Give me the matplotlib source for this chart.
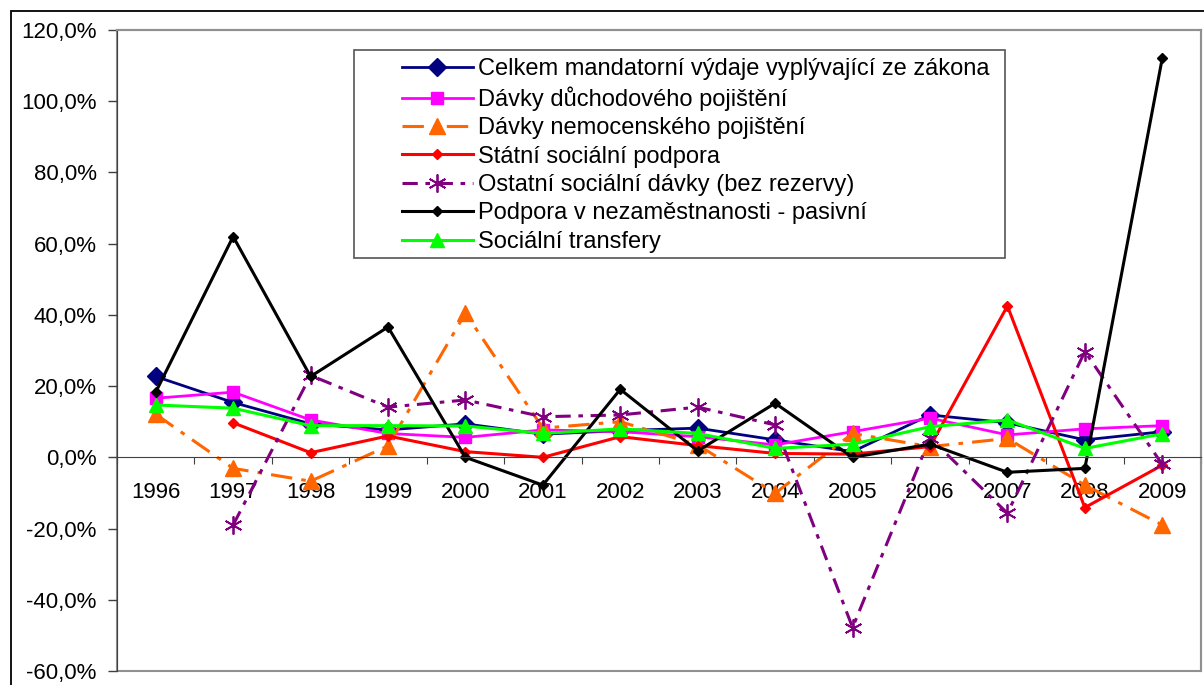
import numpy as np
import matplotlib
matplotlib.use("Agg")
import matplotlib.pyplot as plt
from matplotlib.patches import Rectangle

plt.rcParams["font.family"] = ["Liberation Sans", "DejaVu Sans"]

years = ["1996", "1997", "1998", "1999", "2000", "2001", "2002",
         "2003", "2004", "2005", "2006", "2007", "2008", "2009"]

# yearly change, %
celkem = [22.7, 15.4, 9.4, 7.7, 9.4, 6.5, 7.5, 8.2, 4.9, 1.6, 11.9, 9.7, 4.9, 7.2]
duchod = [16.6, 18.3, 10.5, 6.7, 5.6, 7.7, 7.2, 5.8, 3.5, 7.2, 11.0, 6.3, 8.0, 8.9]
nemoc = [12.1, -3.1, -6.7, 3.2, 40.5, 8.2, 10.0, 3.5, -10.1, 6.7, 3.0, 5.3, -7.8, -19.0]
ssp = [np.nan, 9.7, 1.3, 6.0, 1.6, 0.0, 5.8, 3.3, 1.1, 0.9, 3.0, 42.5, -14.1, -2.2]
ostatni = [np.nan, -19.0, 23.0, 14.1, 16.1, 11.4, 11.9, 14.1, 9.1, -47.8, 5.5, -15.7, 29.7, -2.0]
nezam = [18.3, 62.0, 22.7, 36.6, 0.0, -7.8, 19.1, 1.8, 15.2, 0.0, 3.7, -4.2, -3.1, 112.1]
transfery = [14.7, 13.8, 8.9, 8.9, 8.8, 6.7, 8.0, 6.7, 2.5, 3.7, 8.6, 10.5, 2.5, 6.6]

labels = [
    "Celkem mandatorní výdaje vyplývající ze zákona",
    "Dávky důchodového pojištění",
    "Dávky nemocenského pojištění",
    "Státní sociální podpora",
    "Ostatní sociální dávky (bez rezervy)",
    "Podpora v nezaměstnanosti - pasivní",
    "Sociální transfery",
]

W, H = 1204, 685
fig = plt.figure(figsize=(W / 100, H / 100), dpi=100)
ax = fig.add_axes([117 / W, 1 - 671 / H, 1084 / W, 641 / H])

# outer chart border (only top/left visible in the reference)
fig.patches.append(Rectangle((10.5 / W, -0.1), 1.2, 1 - 11 / H + 0.1,
                             transform=fig.transFigure, fill=False,
                             edgecolor="black", linewidth=1.3, zorder=0))

x = np.arange(len(years))

ax.plot(x, celkem, color="#000080", lw=2, marker="D", ms=9, label=labels[0])
ax.plot(x, duchod, color="#FF00FF", lw=2, marker="s", ms=8.5, label=labels[1])
ax.plot(x, nemoc, color="#FF6600", lw=2.2, marker="^", ms=12, dashes=(7, 3, 1.5, 3),
        label=labels[2])
ax.plot(x, ssp, color="#FF0000", lw=2.2, marker="D", ms=5.5, label=labels[3])
ax.plot(x, ostatni, color="#800080", lw=2.2, marker=(6, 2, 0), ms=13, mew=1.3,
        dashes=(5, 2.5, 1.5, 2.5), label=labels[4])
ax.plot(x, nezam, color="black", lw=2.2, marker="D", ms=5.5, label=labels[5])
ax.plot(x, transfery, color="#00FF00", lw=2.2, marker="^", ms=9.5, label=labels[6])

ax.set_xlim(-0.5, len(years) - 0.5)
ax.set_ylim(-60, 120)
ax.set_yticks(np.arange(-60, 121, 20))
ax.set_yticklabels([f"{v:.1f}%".replace(".", ",") for v in np.arange(-60, 121, 20)],
                   fontsize=16)
ax.tick_params(axis="y", length=6.5, width=1, color="#404040", pad=8)

# x axis sits at 0, ticks between categories, labels at centres
ax.spines["bottom"].set_position(("data", 0))
ax.spines["bottom"].set_color("#404040")
ax.set_xticks(np.arange(-0.5, len(years), 1.0))
ax.set_xticklabels([])
ax.tick_params(axis="x", which="major", direction="out", length=5, color="#404040")
ax.set_xticks(x, minor=True)
ax.set_xticklabels(years, minor=True, fontsize=16)
ax.tick_params(axis="x", which="minor", length=0, pad=18)

ax.spines["left"].set_color("#404040")
for s in ["top", "right"]:
    ax.spines[s].set_color("#909090")
    ax.spines[s].set_linewidth(1.5)
ax.add_patch(Rectangle((0, 0), 1, 1, transform=ax.transAxes, fill=False,
                       edgecolor="#909090", linewidth=1.5, zorder=0, clip_on=False))

# legend box drawn separately: the reference has a wide left margin
ax.add_patch(Rectangle((354 / W, 1 - 258 / H), 651 / W, 208 / H,
                       transform=fig.transFigure, facecolor="white",
                       edgecolor="#555555", linewidth=1.2, zorder=5, clip_on=False))
leg = ax.legend(loc="upper left", bbox_to_anchor=(402 / W, 1 - 58 / H),
                bbox_transform=fig.transFigure,
                prop={"size": 17}, frameon=False, borderaxespad=0, borderpad=0,
                handlelength=3.0, handletextpad=0.2, labelspacing=0.27)
leg.set_zorder(6)

fig.savefig("out.png", dpi=100)
